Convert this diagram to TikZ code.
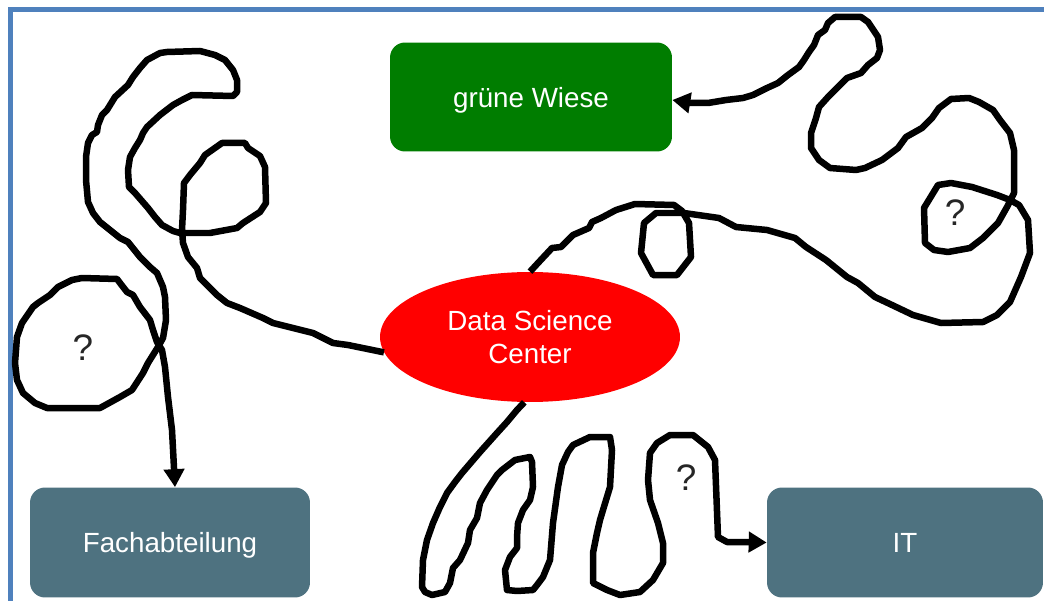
\documentclass[tikz,border=0pt]{standalone}
\usepackage{fontspec}
\setmainfont{Liberation Sans}
\usetikzlibrary{shapes.geometric,arrows.meta}
\definecolor{wiesegreen}{HTML}{007D00}
\definecolor{deptgrey}{HTML}{4E7280}
\definecolor{frameblue}{HTML}{4F81BD}
\tikzset{
  box/.style={draw=none,rounded corners=0.3cm,text=white,minimum width=5.6cm,minimum height=2.2cm,text depth=0pt,
    font=\fontsize{15.8}{18.2}\selectfont},
  oval/.style={ellipse,fill=red,text=white,minimum width=6cm,minimum height=2.6cm,inner sep=0pt,align=center,
    font=\fontsize{15.8}{19}\selectfont},
  squiggle/.style={line width=0.13cm,line join=round,-{Triangle[length=0.36cm,width=0.4cm]}},
  qmark/.style={font=\fontsize{21}{24}\selectfont,text=black!85}
}
\begin{document}
\begin{tikzpicture}[x=0.02cm,y=-0.02cm]
\useasboundingbox (0,0) rectangle (1044,601);
\draw[frameblue,line width=0.09cm] (10.5,601) -- (10.5,9.5) -- (1044,9.5);
% boxes
\node[box,fill=wiesegreen,minimum width=5.64cm,minimum height=2.18cm] (gw) at (531,97) {grüne Wiese};
\node[oval] (dsc) at (530,337) {Data Science\\Center};
\node[box,fill=deptgrey] (fach) at (170,542.5) {Fachabteilung};
\node[box,fill=deptgrey,minimum width=5.52cm] (it) at (905,542.5) {IT};
% question marks
\node[qmark] (q1) at (83,348) {?};
\node[qmark] (q2) at (955,213) {?};
\node[qmark] (q3) at (686,478) {?};
% way to the Fachabteilung
\draw[squiggle] (dsc.186) -- (348,345) -- (333,343) -- (313,333) -- (273,323) -- (263,318) -- (240,308)
  -- (227,303) -- (217,295) -- (200,278) -- (197,268) -- (188,257) -- (183,243) -- (182,230) -- (183,210)
  -- (184,183) -- (190,175) -- (200,163) -- (205,155) -- (222,143) -- (245,143) -- (248,148) -- (260,156)
  -- (265,167) -- (266,203) -- (260,212) -- (243,223) -- (237,228) -- (210,233) -- (180,233) -- (173,231)
  -- (162,225) -- (155,217) -- (148,208) -- (135,193) -- (129,187) -- (128,170) -- (130,157) -- (135,148)
  -- (140,140) -- (143,133) -- (147,127) -- (160,115) -- (173,105) -- (182,100) -- (192,95) -- (233,96)
  -- (237,92) -- (237,80) -- (233,70) -- (225,60) -- (215,55) -- (200,51) -- (167,52) -- (160,53)
  -- (147,60) -- (140,68) -- (133,77) -- (128,85) -- (115,97) -- (107,110) -- (102,115) -- (98,125)
  -- (97,132) -- (92,135) -- (88,143) -- (86,157) -- (86,180) -- (88,202) -- (93,213) -- (100,222)
  -- (110,230) -- (120,238) -- (128,242) -- (140,257) -- (150,267) -- (157,273) -- (163,287) -- (165,297)
  -- (166,320) -- (163,338) -- (158,347) -- (148,363) -- (143,373) -- (132,390) -- (120,397) -- (100,408)
  -- (47,408) -- (35,403) -- (23,393) -- (17,380) -- (15,363) -- (17,337) -- (22,323) -- (33,307)
  -- (38,303) -- (50,295) -- (58,287) -- (72,280) -- (82,278) -- (117,279) -- (120,283) -- (127,292)
  -- (133,295) -- (140,307) -- (150,320) -- (153,330) -- (157,342) -- (162,350) -- (165,367) -- (168,397)
  -- (172,430) -- ([xshift=0.1cm]fach.north);
% way to the gruene Wiese
\draw[squiggle] (dsc.north) -- (538,263) -- (552,248) -- (561,247) -- (573,235) -- (589,228) -- (592,222)
  -- (601,218) -- (616,210) -- (635,204) -- (674,205) -- (682,211) -- (689,223) -- (691,257) -- (677,275)
  -- (653,275) -- (641,253) -- (644,223) -- (656,213) -- (684,213) -- (719,218) -- (736,227) -- (767,230)
  -- (795,238) -- (806,247) -- (826,260) -- (847,277) -- (858,283) -- (875,297) -- (892,305) -- (913,315)
  -- (941,323) -- (983,322) -- (997,315) -- (1010,302) -- (1021,277) -- (1030,253) -- (1028,220)
  -- (1019,205) -- (1010,200) -- (997,195) -- (972,187) -- (951,183) -- (938,185) -- (924,208) -- (925,243)
  -- (934,250) -- (948,252) -- (970,248) -- (983,238) -- (998,223) -- (1007,207) -- (1014,193) -- (1014,150)
  -- (1010,133) -- (1000,120) -- (993,110) -- (979,102) -- (969,98) -- (951,99) -- (939,108) -- (932,118)
  -- (922,128) -- (906,137) -- (898,148) -- (882,160) -- (865,168) -- (856,170) -- (830,168) -- (819,160)
  -- (811,148) -- (811,133) -- (816,118) -- (819,107) -- (828,97) -- (847,78) -- (861,73) -- (868,65)
  -- (877,58) -- (880,50) -- (878,37) -- (868,22) -- (861,17) -- (835,17) -- (828,23) -- (825,30)
  -- (818,35) -- (814,45) -- (809,52) -- (804,60) -- (799,67) -- (788,75) -- (778,83) -- (767,88)
  -- (753,95) -- (743,98) -- (726,100) -- (708,103) -- (691,103) -- ([yshift=-0.06cm]gw.east);
% way to the IT
\draw[squiggle] (dsc.265) -- (517,410) -- (507,422) -- (497,433) -- (480,452) -- (462,473) -- (455,482)
  -- (447,493) -- (440,507) -- (433,523) -- (427,540) -- (423,560) -- (422,587) -- (425,592) -- (432,595)
  -- (445,592) -- (450,583) -- (453,568) -- (460,560) -- (468,543) -- (470,530) -- (477,518) -- (480,503)
  -- (487,490) -- (497,475) -- (502,470) -- (515,460) -- (530,457) -- (532,462) -- (533,487) -- (530,500)
  -- (523,510) -- (518,523) -- (517,537) -- (517,548) -- (510,557) -- (505,570) -- (507,590) -- (517,591)
  -- (533,590) -- (537,585) -- (543,577) -- (550,560) -- (553,523) -- (558,487) -- (562,465) -- (568,452)
  -- (573,445) -- (590,437) -- (610,437) -- (612,450) -- (610,487) -- (603,510) -- (600,520) -- (597,533)
  -- (593,553) -- (593,583) -- (607,590) -- (620,595) -- (640,592) -- (653,580) -- (663,563) -- (663,543)
  -- (658,523) -- (650,500) -- (648,480) -- (650,453) -- (657,443) -- (670,435) -- (693,435) -- (708,447)
  -- (715,460) -- (718,537) -- (727,542) -- (747,542) -- (it.west);
\end{tikzpicture}
\end{document}
